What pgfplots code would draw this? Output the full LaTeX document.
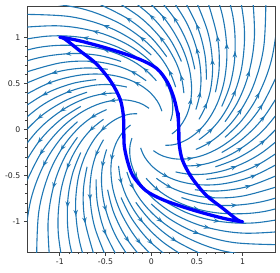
\documentclass[border=0pt]{standalone}
\usepackage{pgfplots}
\pgfplotsset{compat=1.18}
\usepackage{fontspec}
\setmainfont{DejaVu Sans}
\usetikzlibrary{arrows.meta}
\definecolor{c0}{HTML}{1F77B4}
\tikzset{
 stream/.style={c0, line width=1.1bp, smooth, tension=0.6},
}
\begin{document}
\begin{tikzpicture}
\useasboundingbox (-27.3bp,-21bp) rectangle (252.7bp,252bp);
\begin{axis}[at={(0,0)},anchor=south west, scale only axis, width=247.7bp, height=246bp,
 xmin=-1.356,xmax=1.354,ymin=-1.334,ymax=1.345,
 xtick={-1,-0.5,0,0.5,1}, xticklabels={-1,-0.5,0,0.5,1},
 ytick={-1,-0.5,0,0.5,1}, yticklabels={-1,-0.5,0,0.5,1},
 minor x tick num=4, minor y tick num=4,
 tick align=outside, xtick pos=left, ytick pos=left,
 major tick length=3.5bp, minor tick length=2bp,
 tick style={black!75, line width=0.8bp},
 axis line style={black!75, line width=0.8bp},
 tick label style={font=\fontsize{7.8}{9}\selectfont, text=black!85},
]
% base spirals
\addplot[stream] coordinates {(0.024,-0.230) (0.088,-0.271) (0.176,-0.304) (0.290,-0.322) (0.432,-0.314) (0.601,-0.268) (0.793,-0.169) (1,0) (1.206,0.256) (1.389,0.619)};
\addplot[stream] coordinates {(-0.024,0.230) (-0.088,0.271) (-0.176,0.304) (-0.290,0.322) (-0.432,0.314) (-0.601,0.268) (-0.793,0.169) (-1,0) (-1.206,-0.256) (-1.389,-0.619)};
\addplot[stream] coordinates {(0.488,-0.217) (0.644,-0.137) (0.811,0) (0.978,0.208) (1.127,0.502) (1.230,0.894) (1.254,1.393)};
\addplot[stream] coordinates {(-0.488,0.217) (-0.644,0.137) (-0.811,0) (-0.978,-0.208) (-1.127,-0.502) (-1.230,-0.894) (-1.254,-1.393)};
\addplot[stream] coordinates {(0.522,-0.111) (0.658,0) (0.793,0.169) (0.914,0.407) (0.998,0.725) (1.017,1.129) (0.938,1.624)};
\addplot[stream] coordinates {(-0.522,0.111) (-0.658,0) (-0.793,-0.169) (-0.914,-0.407) (-0.998,-0.725) (-1.017,-1.129) (-0.938,-1.624)};
\addplot[stream] coordinates {(0.155,-0.172) (0.231,-0.168) (0.321,-0.143) (0.423,-0.090) (0.534,0) (0.644,0.137) (0.741,0.330) (0.809,0.588) (0.825,0.916) (0.760,1.316) (0.579,1.783)};
\addplot[stream] coordinates {(-0.155,0.172) (-0.231,0.168) (-0.321,0.143) (-0.423,0.090) (-0.534,0) (-0.644,-0.137) (-0.741,-0.330) (-0.809,-0.588) (-0.825,-0.916) (-0.760,-1.316) (-0.579,-1.783)};
\addplot[stream] coordinates {(0.522,0.111) (0.601,0.268) (0.656,0.477) (0.669,0.743) (0.617,1.068) (0.470,1.446)};
\addplot[stream] coordinates {(-0.522,-0.111) (-0.601,-0.268) (-0.656,-0.477) (-0.669,-0.743) (-0.617,-1.068) (-0.470,-1.446)};
\addplot[stream] coordinates {(0.488,0.217) (0.532,0.387) (0.543,0.603) (0.5,0.866) (0.381,1.173) (0.160,1.512)};
\addplot[stream] coordinates {(-0.488,-0.217) (-0.532,-0.387) (-0.543,-0.603) (-0.5,-0.866) (-0.381,-1.173) (-0.160,-1.512)};
\addplot[stream] coordinates {(0.226,-0.048) (0.285,0) (0.343,0.073) (0.396,0.176) (0.432,0.314) (0.440,0.489) (0.406,0.702) (0.309,0.951) (0.129,1.227) (-0.160,1.512)};
\addplot[stream] coordinates {(-0.226,0.048) (-0.285,0) (-0.343,-0.073) (-0.396,-0.176) (-0.432,-0.314) (-0.440,-0.489) (-0.406,-0.702) (-0.309,-0.951) (-0.129,-1.227) (0.160,-1.512)};
\addplot[stream] coordinates {(0.357,0.397) (0.329,0.570) (0.251,0.771) (0.105,0.995) (-0.129,1.227) (-0.470,1.446)};
\addplot[stream] coordinates {(-0.357,-0.397) (-0.329,-0.570) (-0.251,-0.771) (-0.105,-0.995) (0.129,-1.227) (0.470,-1.446)};
\addplot[stream] coordinates {(0.267,0.462) (0.203,0.626) (0.085,0.807) (-0.105,0.995) (-0.381,1.173) (-0.760,1.316) (-1.254,1.393)};
\addplot[stream] coordinates {(-0.267,-0.462) (-0.203,-0.626) (-0.085,-0.807) (0.105,-0.995) (0.381,-1.173) (0.760,-1.316) (1.254,-1.393)};
\addplot[stream] coordinates {(0.211,0.094) (0.231,0.168) (0.235,0.261) (0.217,0.375) (0.165,0.508) (0.069,0.655) (-0.085,0.807) (-0.309,0.951) (-0.617,1.068) (-1.017,1.129) (-1.517,1.103)};
\addplot[stream] coordinates {(-0.211,-0.094) (-0.231,-0.168) (-0.235,-0.261) (-0.217,-0.375) (-0.165,-0.508) (-0.069,-0.655) (0.085,-0.807) (0.309,-0.951) (0.617,-1.068) (1.017,-1.129) (1.517,-1.103)};
\addplot[stream] coordinates {(0.056,0.531) (-0.069,0.655) (-0.251,0.771) (-0.5,0.866) (-0.825,0.916) (-1.230,0.894) (-1.714,0.763)};
\addplot[stream] coordinates {(-0.056,-0.531) (0.069,-0.655) (0.251,-0.771) (0.5,-0.866) (0.825,-0.916) (1.230,-0.894) (1.714,-0.763)};
\addplot[stream] coordinates {(-0.056,0.531) (-0.203,0.626) (-0.406,0.702) (-0.669,0.743) (-0.998,0.725) (-1.389,0.619)};
\addplot[stream] coordinates {(0.056,-0.531) (0.203,-0.626) (0.406,-0.702) (0.669,-0.743) (0.998,-0.725) (1.389,-0.619)};
\addplot[stream] coordinates {(0.116,0.200) (0.088,0.271) (0.037,0.349) (-0.045,0.431) (-0.165,0.508) (-0.329,0.570) (-0.543,0.603) (-0.809,0.588) (-1.127,0.502) (-1.487,0.316)};
\addplot[stream] coordinates {(-0.116,-0.200) (-0.088,-0.271) (-0.037,-0.349) (0.045,-0.431) (0.165,-0.508) (0.329,-0.570) (0.543,-0.603) (0.809,-0.588) (1.127,-0.502) (1.487,-0.316)};
\addplot[stream] coordinates {(-0.267,0.462) (-0.440,0.489) (-0.656,0.477) (-0.914,0.407) (-1.206,0.256) (-1.520,0)};
\addplot[stream] coordinates {(0.267,-0.462) (0.440,-0.489) (0.656,-0.477) (0.914,-0.407) (1.206,-0.256) (1.520,0)};
\addplot[stream] coordinates {(-0.357,0.397) (-0.532,0.387) (-0.741,0.330) (-0.978,0.208) (-1.233,0) (-1.487,-0.316)};
\addplot[stream] coordinates {(0.357,-0.397) (0.532,-0.387) (0.741,-0.330) (0.978,-0.208) (1.233,0) (1.487,0.316)};
% intermediate spirals
\addplot[stream] coordinates {(0.807,-0.085) (0.995,0.105) (1.173,0.381) (1.316,0.760) (1.393,1.254)};
\addplot[stream] coordinates {(-0.807,0.085) (-0.995,-0.105) (-1.173,-0.381) (-1.316,-0.760) (-1.393,-1.254)};
\addplot[stream] coordinates {(0.807,0.085) (0.951,0.309) (1.068,0.617) (1.129,1.017) (1.103,1.517)};
\addplot[stream] coordinates {(-0.807,-0.085) (-0.951,-0.309) (-1.068,-0.617) (-1.129,-1.017) (-1.103,-1.517)};
\addplot[stream] coordinates {(0.771,0.251) (0.866,0.5) (0.916,0.825) (0.894,1.230) (0.763,1.714)};
\addplot[stream] coordinates {(-0.771,-0.251) (-0.866,-0.5) (-0.916,-0.825) (-0.894,-1.230) (-0.763,-1.714)};
\addplot[stream] coordinates {(0.702,0.406) (0.743,0.669) (0.725,0.998) (0.619,1.389)};
\addplot[stream] coordinates {(-0.702,-0.406) (-0.743,-0.669) (-0.725,-0.998) (-0.619,-1.389)};
\addplot[stream] coordinates {(0.603,0.543) (0.588,0.809) (0.502,1.127) (0.316,1.487)};
\addplot[stream] coordinates {(-0.603,-0.543) (-0.588,-0.809) (-0.502,-1.127) (-0.316,-1.487)};
\addplot[stream] coordinates {(0.477,0.656) (0.407,0.914) (0.256,1.206) (0,1.52)};
\addplot[stream] coordinates {(-0.477,-0.656) (-0.407,-0.914) (-0.256,-1.206) (0,-1.52)};
\addplot[stream] coordinates {(0.330,0.741) (0.208,0.978) (0,1.233) (-0.316,1.487)};
\addplot[stream] coordinates {(-0.330,-0.741) (-0.208,-0.978) (0,-1.233) (0.316,-1.487)};
\addplot[stream] coordinates {(0.169,0.793) (0,1) (-0.256,1.206) (-0.619,1.389)};
\addplot[stream] coordinates {(-0.169,-0.793) (0,-1) (0.256,-1.206) (0.619,-1.389)};
\addplot[stream] coordinates {(0,0.811) (-0.208,0.978) (-0.502,1.127) (-0.894,1.230) (-1.393,1.254)};
\addplot[stream] coordinates {(0,-0.811) (0.208,-0.978) (0.502,-1.127) (0.894,-1.230) (1.393,-1.254)};
\addplot[stream] coordinates {(-0.169,0.793) (-0.407,0.914) (-0.725,0.998) (-1.129,1.017) (-1.624,0.938)};
\addplot[stream] coordinates {(0.169,-0.793) (0.407,-0.914) (0.725,-0.998) (1.129,-1.017) (1.624,-0.938)};
\addplot[stream] coordinates {(-0.330,0.741) (-0.588,0.809) (-0.916,0.825) (-1.316,0.760) (-1.783,0.579)};
\addplot[stream] coordinates {(0.330,-0.741) (0.588,-0.809) (0.916,-0.825) (1.316,-0.760) (1.783,-0.579)};
\addplot[stream] coordinates {(-0.477,0.656) (-0.743,0.669) (-1.068,0.617) (-1.446,0.470)};
\addplot[stream] coordinates {(0.477,-0.656) (0.743,-0.669) (1.068,-0.617) (1.446,-0.470)};
\addplot[stream] coordinates {(-0.603,0.543) (-0.866,0.5) (-1.173,0.381) (-1.512,0.160)};
\addplot[stream] coordinates {(0.603,-0.543) (0.866,-0.5) (1.173,-0.381) (1.512,-0.160)};
\addplot[stream] coordinates {(-0.702,0.406) (-0.951,0.309) (-1.227,0.129) (-1.512,-0.160)};
\addplot[stream] coordinates {(0.702,-0.406) (0.951,-0.309) (1.227,-0.129) (1.512,0.160)};
\addplot[stream] coordinates {(-0.771,0.251) (-0.995,0.105) (-1.227,-0.129) (-1.446,-0.470)};
\addplot[stream] coordinates {(0.771,-0.251) (0.995,-0.105) (1.227,0.129) (1.446,0.470)};
% arrow heads along the streamlines
\addplot[c0, line width=1.1bp, quiver={u=\thisrow{u},v=\thisrow{v},every arrow/.append style={-{Stealth[length=6bp,width=4.5bp]}}}] table {
x y u v
0.432 -0.314 0.0247 0.0039
1.206 0.256 0.0136 0.0210
0.978 0.208 0.0136 0.0210
0.914 0.407 0.0090 0.0233
0.534 0 0.0177 0.0177
0.825 0.916 -0.0013 0.0250
0.669 0.743 -0.0013 0.0250
0.5 0.866 -0.0065 0.0241
0.432 0.314 0.0039 0.0247
0.129 1.227 -0.0157 0.0194
0.105 0.995 -0.0157 0.0194
-0.105 0.995 -0.0194 0.0157
0.165 0.508 -0.0113 0.0223
-0.617 1.068 -0.0241 0.0065
-0.5 0.866 -0.0241 0.0065
-0.669 0.743 -0.0250 0.0013
-0.165 0.508 -0.0223 0.0113
-1.127 0.502 -0.0233 -0.0090
-0.914 0.407 -0.0233 -0.0090
-0.978 0.208 -0.0210 -0.0136
1.173 0.381 0.0113 0.0223
1.068 0.617 0.0065 0.0241
0.916 0.825 0.0013 0.0250
0.725 0.998 -0.0039 0.0247
0.502 1.127 -0.0090 0.0233
0.256 1.206 -0.0136 0.0210
0 1.233 -0.0177 0.0177
-0.256 1.206 -0.0210 0.0136
-0.502 1.127 -0.0233 0.0090
-0.725 0.998 -0.0247 0.0039
-0.916 0.825 -0.0250 -0.0013
-1.068 0.617 -0.0241 -0.0065
-1.173 0.381 -0.0223 -0.0113
-1.227 0.129 -0.0194 -0.0157
-1.227 -0.129 -0.0157 -0.0194
0.644 -0.137 0.0210 0.0136
0.658 0 0.0177 0.0177
0.601 0.268 0.0090 0.0233
0.532 0.387 0.0039 0.0247
0.329 0.570 -0.0065 0.0241
0.203 0.626 -0.0113 0.0223
-0.069 0.655 -0.0194 0.0157
-0.203 0.626 -0.0223 0.0113
-0.440 0.489 -0.0250 0.0013
-0.532 0.387 -0.0247 -0.0039
-0.432 0.314 -0.0247 -0.0039
-1.206 -0.256 -0.0136 -0.0210
-0.978 -0.208 -0.0136 -0.0210
-0.914 -0.407 -0.0090 -0.0233
-0.534 0 -0.0177 -0.0177
-0.825 -0.916 0.0013 -0.0250
-0.669 -0.743 0.0013 -0.0250
-0.5 -0.866 0.0065 -0.0241
-0.432 -0.314 -0.0039 -0.0247
-0.129 -1.227 0.0157 -0.0194
-0.105 -0.995 0.0157 -0.0194
0.105 -0.995 0.0194 -0.0157
-0.165 -0.508 0.0113 -0.0223
0.617 -1.068 0.0241 -0.0065
0.5 -0.866 0.0241 -0.0065
0.669 -0.743 0.0250 -0.0013
0.165 -0.508 0.0223 -0.0113
1.127 -0.502 0.0233 0.0090
0.914 -0.407 0.0233 0.0090
0.978 -0.208 0.0210 0.0136
-1.173 -0.381 -0.0113 -0.0223
-1.068 -0.617 -0.0065 -0.0241
-0.916 -0.825 -0.0013 -0.0250
-0.725 -0.998 0.0039 -0.0247
-0.502 -1.127 0.0090 -0.0233
-0.256 -1.206 0.0136 -0.0210
0 -1.233 0.0177 -0.0177
0.256 -1.206 0.0210 -0.0136
0.502 -1.127 0.0233 -0.0090
0.725 -0.998 0.0247 -0.0039
0.916 -0.825 0.0250 0.0013
1.068 -0.617 0.0241 0.0065
1.173 -0.381 0.0223 0.0113
1.227 -0.129 0.0194 0.0157
1.227 0.129 0.0157 0.0194
-0.644 0.137 -0.0210 -0.0136
-0.658 0 -0.0177 -0.0177
-0.601 -0.268 -0.0090 -0.0233
-0.532 -0.387 -0.0039 -0.0247
-0.329 -0.570 0.0065 -0.0241
-0.203 -0.626 0.0113 -0.0223
0.069 -0.655 0.0194 -0.0157
0.203 -0.626 0.0223 -0.0113
0.440 -0.489 0.0250 -0.0013
0.532 -0.387 0.0247 0.0039
};
% limit cycle
\addplot[blue, line width=3.3bp, smooth, tension=0.5, line cap=round, line join=round] coordinates {
(0.295,0.18) (0.30,0.03) (0.305,-0.15) (0.34,-0.33) (0.44,-0.52) (0.60,-0.715) (0.785,-0.86) (0.945,-0.985) (1.0,-1.005)
(0.90,-0.99) (0.74,-0.955) (0.45,-0.875) (0.14,-0.77) (-0.06,-0.665) (-0.20,-0.505) (-0.26,-0.345) (-0.295,-0.18) (-0.30,-0.03)
(-0.305,0.15) (-0.34,0.33) (-0.44,0.52) (-0.60,0.715) (-0.785,0.86) (-0.945,0.985) (-1.0,1.005)
(-0.90,0.99) (-0.74,0.955) (-0.45,0.875) (-0.14,0.77) (0.06,0.665) (0.18,0.51) (0.25,0.335) (0.29,0.16) (0.30,0.03) (0.305,-0.15)};
\end{axis}
\end{tikzpicture}
\end{document}
